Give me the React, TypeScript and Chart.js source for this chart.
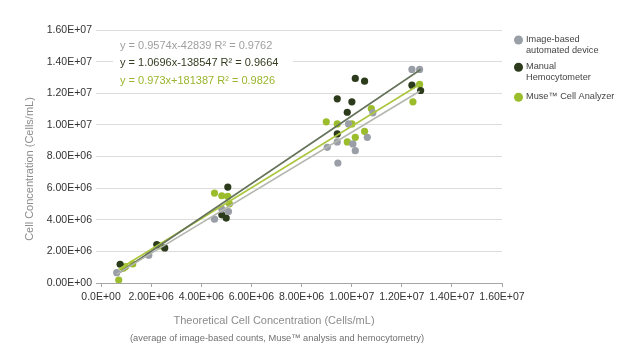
import { useEffect, useRef } from "react";
import { Chart, registerables } from "chart.js";

Chart.register(...registerables);

const seriesNames = [
  ["Image-based", "automated device"],
  ["Manual", "Hemocytometer"],
  ["Muse\u2122 Cell Analyzer"],
];
const seriesColors = ["#9a9ea6", "#2c3b1b", "#9cbd2b"];
const lineColors = ["#b4b7b0", "#65735a", "#acc63f"];
const eqColors = ["#a0a0a0", "#353d22", "#9ab52d"];

const grayX = [627e3, 1.905e6, 4.819e6, 5.087e6, 4.528e6, 10.849e6, 9.878e6, 10.625e6, 9.427e6, 10.05e6, 9.028e6, 10.146e6, 9.451e6, 12.406e6, 12.713e6];
const grayY = [653e3, 1.757e6, 4.673e6, 4.521e6, 4.039e6, 10.761e6, 10.063e6, 9.214e6, 8.922e6, 8.795e6, 8.58e6, 8.37e6, 7.59e6, 13.507e6, 13.507e6];

const darkX = [763e3, 2.224e6, 2.543e6, 5.059e6, 4.819e6, 4.995e6, 10.146e6, 10.517e6, 9.427e6, 10.01e6, 9.826e6, 9.427e6, 12.406e6, 12.753e6];
const darkY = [1.186e6, 2.429e6, 2.219e6, 6.068e6, 4.312e6, 4.103e6, 12.936e6, 12.765e6, 11.649e6, 11.459e6, 10.799e6, 9.429e6, 12.511e6, 12.175e6];

const greenX = [707e3, 894e3, 974e3, 1.266e6, 2.352e6, 4.528e6, 4.819e6, 5.059e6, 5.127e6, 10.785e6, 8.988e6, 9.427e6, 10.01e6, 10.517e6, 10.146e6, 9.826e6, 12.713e6, 12.446e6];
const greenY = [190e3, 932e3, 1.034e6, 1.205e6, 2.346e6, 5.688e6, 5.517e6, 5.472e6, 5.009e6, 11.033e6, 10.19e6, 10.063e6, 10.063e6, 9.594e6, 9.214e6, 8.922e6, 12.555e6, 11.459e6];

const slopes = [0.9574, 1.0696, 0.973];
const intercepts = [-42839, -138547, 181387];
const rSquared = [0.9762, 0.9664, 0.9826];

const xTicks = [0, 2e6, 4e6, 6e6, 8e6, 10e6, 12e6, 14e6, 16e6];
const yTicks = [0, 2e6, 4e6, 6e6, 8e6, 10e6, 12e6, 14e6, 16e6];

const yTitle = "Cell Concentration (Cells/mL)";
const xTitle = "Theoretical Cell Concentration (Cells/mL)";
const xSubtitle = "(average of image-based counts, Muse\u2122 analysis and hemocytometry)";

const FONT = "'Liberation Sans', Arial, sans-serif";

function sci(v: number, digits: number): string {
  if (v === 0) return (0).toFixed(digits) + "E+00";
  let e = Math.floor(Math.log10(Math.abs(v)) + 1e-9);
  const m = v / Math.pow(10, e);
  return m.toFixed(digits) + "E" + (e < 0 ? "-" : "+") + String(Math.abs(e)).padStart(2, "0");
}

function eqText(i: number): string {
  const b = intercepts[i];
  return "y = " + slopes[i] + "x" + (b < 0 ? "-" : "+") + Math.abs(b) + " R\u00b2 = " + rSquared[i];
}

const xsAll = [grayX, darkX, greenX];
const ysAll = [grayY, darkY, greenY];

export default function App() {
  const ref = useRef<HTMLCanvasElement | null>(null);
  useEffect(() => {
    document.body.style.margin = "0";
    const canvas = ref.current;
    if (!canvas) return;

    const scatterSets = xsAll.map((xs, i) => ({
      type: "scatter" as const,
      label: seriesNames[i].join(" "),
      data: xs.map((x, j) => ({ x, y: ysAll[i][j] })),
      backgroundColor: seriesColors[i],
      borderWidth: 0,
      pointRadius: 3.6,
      order: 1,
    }));
    const lineSets = xsAll.map((xs, i) => {
      const lo = Math.min(...xs);
      const hi = Math.max(...xs);
      return {
        type: "line" as const,
        label: "trend" + i,
        data: [lo, hi].map((x) => ({ x, y: slopes[i] * x + intercepts[i] })),
        borderColor: lineColors[i],
        borderWidth: 1.6,
        pointRadius: 0,
        fill: false,
        order: 0,
      };
    });

    const textPlugin = {
      id: "texts",
      beforeDatasetsDraw(chart: any) {
        const ctx = chart.ctx;
        ctx.save();
        ctx.fillStyle = "#ffffff";
        ctx.fillRect(113, 37, 180, 52);
        ctx.font = "11px " + FONT;
        ctx.textBaseline = "middle";
        ctx.textAlign = "left";
        const ys = [45.8, 63.3, 80.8];
        for (let i = 0; i < 3; i++) {
          ctx.fillStyle = eqColors[i];
          ctx.fillText(eqText(i), 120, ys[i]);
        }
        ctx.restore();
      },
      afterDraw(chart: any) {
        const ctx = chart.ctx;
        ctx.save();
        ctx.fillStyle = "#8c8c8c";
        ctx.font = "11px " + FONT;
        ctx.textAlign = "center";
        ctx.textBaseline = "middle";
        ctx.translate(30, 169);
        ctx.rotate(-Math.PI / 2);
        ctx.fillText(yTitle, 0, 0);
        ctx.restore();

        ctx.save();
        ctx.textAlign = "center";
        ctx.textBaseline = "middle";
        ctx.fillStyle = "#8c8c8c";
        ctx.font = "11px " + FONT;
        ctx.fillText(xTitle, 274, 321);
        ctx.fillStyle = "#6f6f6f";
        ctx.font = "9.3px " + FONT;
        ctx.fillText(xSubtitle, 277, 338);

        const legendY = [40, 67.3, 97.3];
        ctx.textAlign = "left";
        ctx.font = "9.2px " + FONT;
        for (let i = 0; i < 3; i++) {
          ctx.fillStyle = seriesColors[i];
          ctx.beginPath();
          ctx.arc(518.5, legendY[i], 4.5, 0, Math.PI * 2);
          ctx.fill();
          ctx.fillStyle = "#444444";
          seriesNames[i].forEach((t, k) => {
            ctx.fillText(t, 526, legendY[i] - 1 + k * 11);
          });
        }
        ctx.restore();
      },
    };

    const chart = new Chart(canvas, {
      data: { datasets: [...scatterSets, ...lineSets] as any },
      options: {
        responsive: false,
        animation: false,
        layout: { padding: { top: 30, right: 119, left: 0, bottom: 0 } },
        plugins: { legend: { display: false }, tooltip: { enabled: false } },
        scales: {
          x: {
            type: "linear",
            min: -2e5,
            max: 16e6,
            afterBuildTicks: (s: any) => {
              s.ticks = xTicks.map((v) => ({ value: v }));
            },
            afterFit: (s: any) => {
              s.height = 77;
            },
            ticks: {
              autoSkip: false,
              maxRotation: 0,
              padding: 4,
              color: "#333333",
              font: { size: 10.5, family: FONT },
              callback: (v: any) => sci(Number(v), Number(v) === 0 ? 1 : 2),
            },
            grid: { drawOnChartArea: false, drawTicks: true, tickLength: 4, color: "#a6a6a6" },
            border: { display: true, color: "#a6a6a6" },
          },
          y: {
            type: "linear",
            min: 0,
            max: 16e6,
            afterBuildTicks: (s: any) => {
              s.ticks = yTicks.map((v) => ({ value: v }));
            },
            afterFit: (s: any) => {
              s.width = 96;
            },
            ticks: {
              padding: 4,
              color: "#333333",
              font: { size: 10.5, family: FONT },
              callback: (v: any) => sci(Number(v), 2),
            },
            grid: { color: "#dcdcdc", drawTicks: false, lineWidth: 1 },
            border: { display: false },
          },
        },
      },
      plugins: [textPlugin],
    });
    return () => chart.destroy();
  }, []);
  return <canvas ref={ref} width={621} height={360} style={{ display: "block" }} />;
}
